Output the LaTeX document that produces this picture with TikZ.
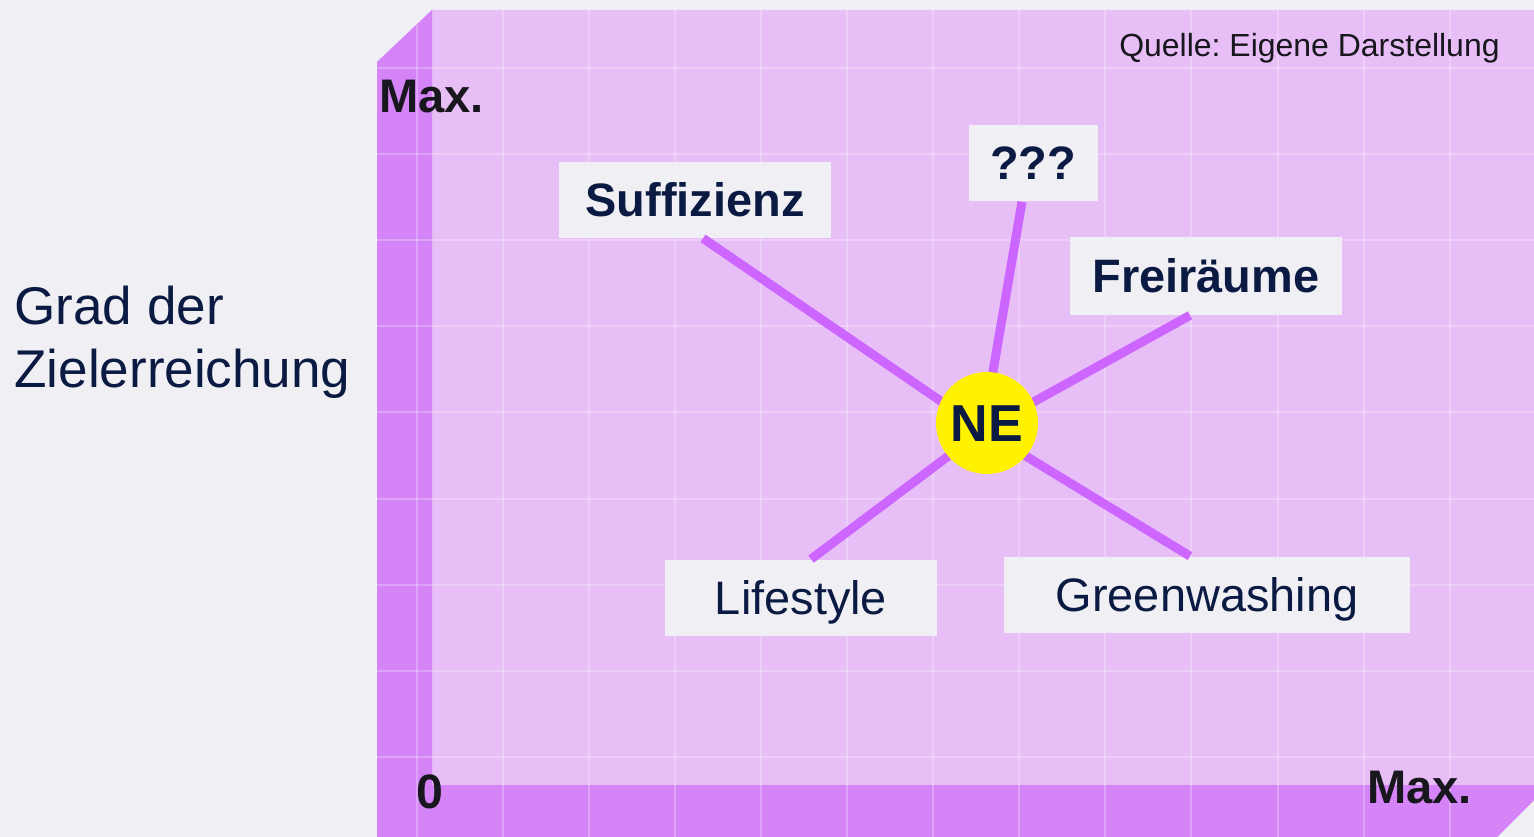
\documentclass[tikz,border=0pt]{standalone}
\usepackage{fontspec}
\setmainfont{Liberation Sans}
\definecolor{pagebg}{HTML}{F0F0F4}
\definecolor{wallback}{HTML}{E8BEF6}
\definecolor{wallside}{HTML}{D484F7}
\definecolor{spoke}{HTML}{CC66FF}
\definecolor{navy}{HTML}{0B1A42}
\definecolor{ink}{HTML}{17171D}
\begin{document}
\begin{tikzpicture}[
  x=0.02cm, y=-0.02cm,
  label/.style={fill=pagebg, inner sep=0pt, text height=19.1pt, text depth=0pt, text=navy, font=\fontsize{26.7pt}{30pt}\selectfont},
  bold label/.style={label, font=\fontsize{26.7pt}{30pt}\selectfont\bfseries},
  axis mark/.style={inner sep=0pt, anchor=base west, text=ink, font=\fontsize{26.8pt}{30pt}\selectfont\bfseries},
  spoke line/.style={draw=spoke, line width=0.18cm},
  grid line/.style={draw=white, opacity=0.25, line width=0.6pt}
]
\useasboundingbox[fill=pagebg] (0,0) rectangle (1534,837);

\fill[wallback] (377,62) -- (432,10) -- (1534,10) -- (1534,800) -- (1497,837) -- (377,837) -- cycle;
\fill[wallside] (377,62) -- (432,10) -- (432,785) -- (1534,785) -- (1534,800) -- (1497,837) -- (377,837) -- cycle;
\begin{scope}
  \clip (377,62) -- (432,10) -- (1534,10) -- (1534,800) -- (1497,837) -- (377,837) -- cycle;
  \foreach \gy in {68,154,240,326,412,499,585,671,757}
    \draw[grid line] (377,\gy) -- (1534,\gy);
  \foreach \gx in {417,503,589,675,761,847,933,1019,1105,1191,1278,1364,1450}
    \draw[grid line] (\gx,10) -- (\gx,837);
\end{scope}

\node[inner sep=0pt, anchor=base east, text=ink, font=\fontsize{18.2pt}{22pt}\selectfont] (source) at (1500,57) {Quelle:\ Eigene Darstellung};
\node[axis mark] (ymax) at (379,113) {Max.};
\node[axis mark, font=\fontsize{27.5pt}{30pt}\selectfont\bfseries] (origin) at (416,808) {0};
\node[axis mark] (xmax) at (1367,803) {Max.};
\node[inner sep=0pt, anchor=north west, align=left, text=navy, font=\fontsize{30.2pt}{35.8pt}\selectfont] (yaxis) at (14,286) {Grad der\\Zielerreichung};

\node[bold label, minimum width=5.44cm, minimum height=1.52cm] (suff) at (695,200) {Suffizienz};
\node[bold label, minimum width=2.58cm, minimum height=1.54cm] (open) at (1033,163) {???};
\node[bold label, minimum width=5.46cm, minimum height=1.56cm] (frei) at (1206,276) {Freiräume};
\node[label, minimum width=5.44cm, minimum height=1.54cm] (life) at (801,598) {Lifestyle};
\node[label, minimum width=8.12cm, minimum height=1.54cm] (green) at (1207,595) {Greenwashing};

\coordinate (hub) at (983,430);
\draw[spoke line] (hub) -- ([xshift=0.16cm]suff.south);
\draw[spoke line] (hub) -- ([xshift=-0.22cm]open.south);
\draw[spoke line] (hub) -- ([xshift=-0.32cm]frei.south);
\draw[spoke line] (hub) -- ([xshift=0.2cm]life.north);
\draw[spoke line] (hub) -- ([xshift=-0.34cm]green.north);

\node[circle, fill=yellow, minimum size=2.04cm, inner sep=0pt, text height=21.2pt, text depth=0pt, text=navy, font=\fontsize{29.6pt}{32pt}\selectfont\bfseries] (ne) at (987,423) {NE};
\end{tikzpicture}
\end{document}
